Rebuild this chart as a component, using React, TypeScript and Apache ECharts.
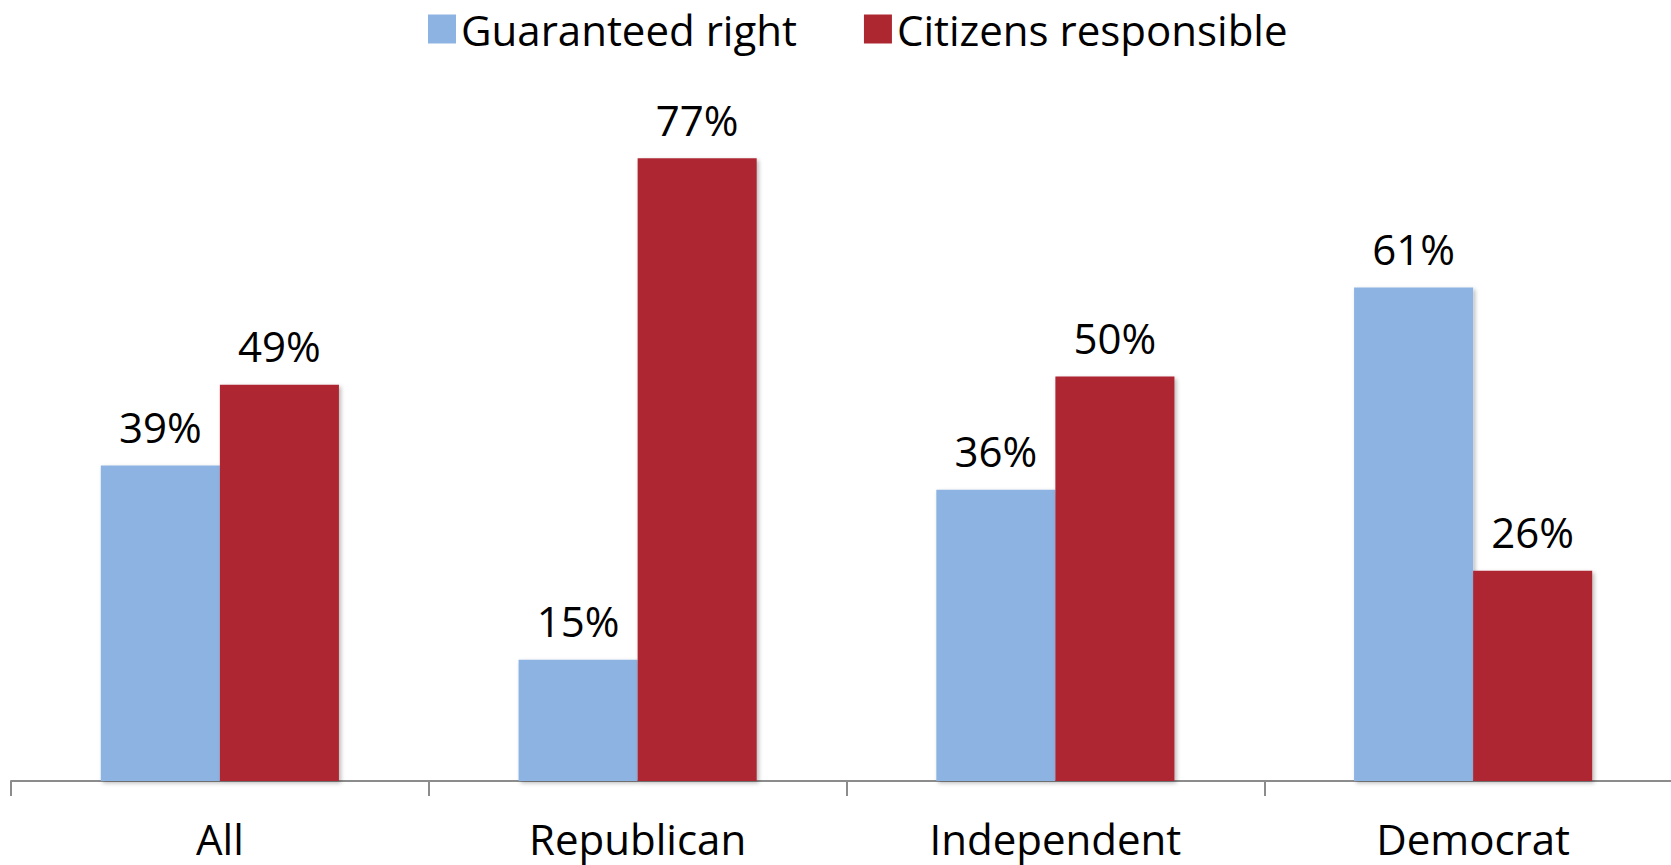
import React, { useEffect, useRef } from "react";
import * as echarts from "echarts";

// Survey groups and the share choosing each answer (%)
const categories = ["All", "Republican", "Independent", "Democrat"];
const guaranteedRight = [39, 15, 36, 61];
const citizensResponsible = [49, 77, 50, 26];
const seriesNames = ["Guaranteed right", "Citizens responsible"];

const FONT = "'Open Sans', sans-serif";

export default function App() {
  const ref = useRef<HTMLDivElement>(null);

  useEffect(() => {
    if (!ref.current) return;
    const chart = echarts.init(ref.current, undefined, { renderer: "svg" });

    const labelStyle = {
      show: true,
      position: "top" as const,
      distance: 18,
      fontFamily: FONT,
      fontSize: 42,
      color: "#000",
      formatter: (p: any) => `${p.value}%`,
    };

    const shadow = {
      shadowBlur: 4,
      shadowColor: "rgba(0,0,0,0.28)",
      shadowOffsetX: 2,
      shadowOffsetY: 2,
    };

    chart.setOption({
      animation: false,
      backgroundColor: "#fff",
      textStyle: { fontFamily: FONT },
      legend: {
        data: seriesNames,
        left: 423,
        top: 3,
        itemWidth: 28,
        itemHeight: 29,
        itemGap: 67,
        icon: "rect",
        textStyle: { fontFamily: FONT, fontSize: 42, color: "#000" },
      },
      // the plot runs past the right edge, so the last category is clipped
      grid: { left: 11, width: 1671, top: 53, bottom: 84, containLabel: false },
      xAxis: {
        type: "category",
        data: categories,
        axisLine: { lineStyle: { color: "#8c8c8c", width: 2 } },
        axisTick: { show: true, length: 15, lineStyle: { color: "#8c8c8c", width: 2 } },
        axisLabel: {
          fontFamily: FONT,
          fontSize: 42,
          lineHeight: 44,
          color: "#000",
          margin: 35,
        },
      },
      yAxis: {
        type: "value",
        min: 0,
        max: 90,
        show: false,
        splitLine: { show: false },
      },
      series: [
        {
          name: seriesNames[0],
          type: "bar",
          data: guaranteedRight,
          barGap: "0%",
          barCategoryGap: "43%",
          itemStyle: { color: "#8DB3E2", ...shadow },
          label: labelStyle,
        },
        {
          name: seriesNames[1],
          type: "bar",
          data: citizensResponsible,
          barGap: "0%",
          barCategoryGap: "43%",
          itemStyle: { color: "#AD2731", ...shadow },
          label: labelStyle,
        },
      ],
    });

    return () => chart.dispose();
  }, []);

  return (
    <div
      style={{
        position: "absolute",
        left: 0,
        top: 0,
        width: 1671,
        height: 865,
        overflow: "hidden",
      }}
    >
      <div ref={ref} style={{ width: 1700, height: 865 }} />
    </div>
  );
}
